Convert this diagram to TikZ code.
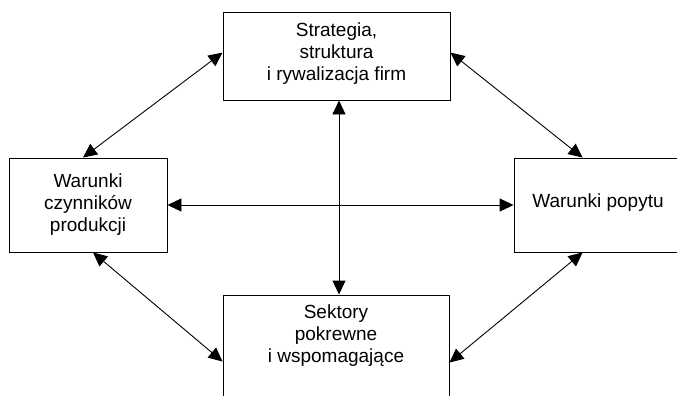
\documentclass[tikz,border=0pt]{standalone}
\usepackage{fontspec}
\setmainfont{Liberation Sans}
\usetikzlibrary{arrows.meta}
\tikzset{
  box/.style={draw=black, line width=0.9pt, rectangle, inner sep=0pt},
  lbl/.style={align=center, font=\fontsize{19}{22}\selectfont, inner sep=0pt},
  link/.style={line width=0.9pt, {Triangle[length=14pt,width=13pt]}-{Triangle[length=14pt,width=13pt]}}
}
\begin{document}
\begin{tikzpicture}[x=1pt,y=-1pt]
\useasboundingbox (0,0) rectangle (677,396);
\clip (0,0) rectangle (677,396);
% boxes
\node[box, minimum width=227pt, minimum height=88pt] (tb) at (336.5,56) {};
\node[box, minimum width=158pt, minimum height=94pt] (lb) at (88,205) {};
\node[box, minimum width=168pt, minimum height=94pt] (rb) at (598,205) {};
\node[box, minimum width=226pt, minimum height=120pt] (bb) at (336,355) {};
% texts
\node[lbl] (tt) at (336.5,54) {Strategia,\\struktura\\i rywalizacja firm};
\node[lbl] (lt) at (88,205) {Warunki\\czynników\\produkcji};
\node[lbl] (rt) at (598,203) {Warunki popytu};
\node[lbl] (bt) at (336,336) {Sektory\\pokrewne\\i wspomagające};
% connectors
\draw[link] ([xshift=-5pt]lb.north) -- ([yshift=-41pt]tb.north west);
\draw[link] ([yshift=-41pt]tb.north east) -- ([xshift=69pt]rb.north west);
\draw[link] ([xshift=5pt]lb.south) -- ([yshift=-67pt]bb.north west);
\draw[link] ([xshift=69pt]rb.south west) -- ([yshift=-68pt]bb.north east);
\draw[link] (lb.east) -- (rb.west);
\draw[link] ([xshift=2.5pt]tb.south) -- ([xshift=3pt]bb.north);
\end{tikzpicture}
\end{document}
